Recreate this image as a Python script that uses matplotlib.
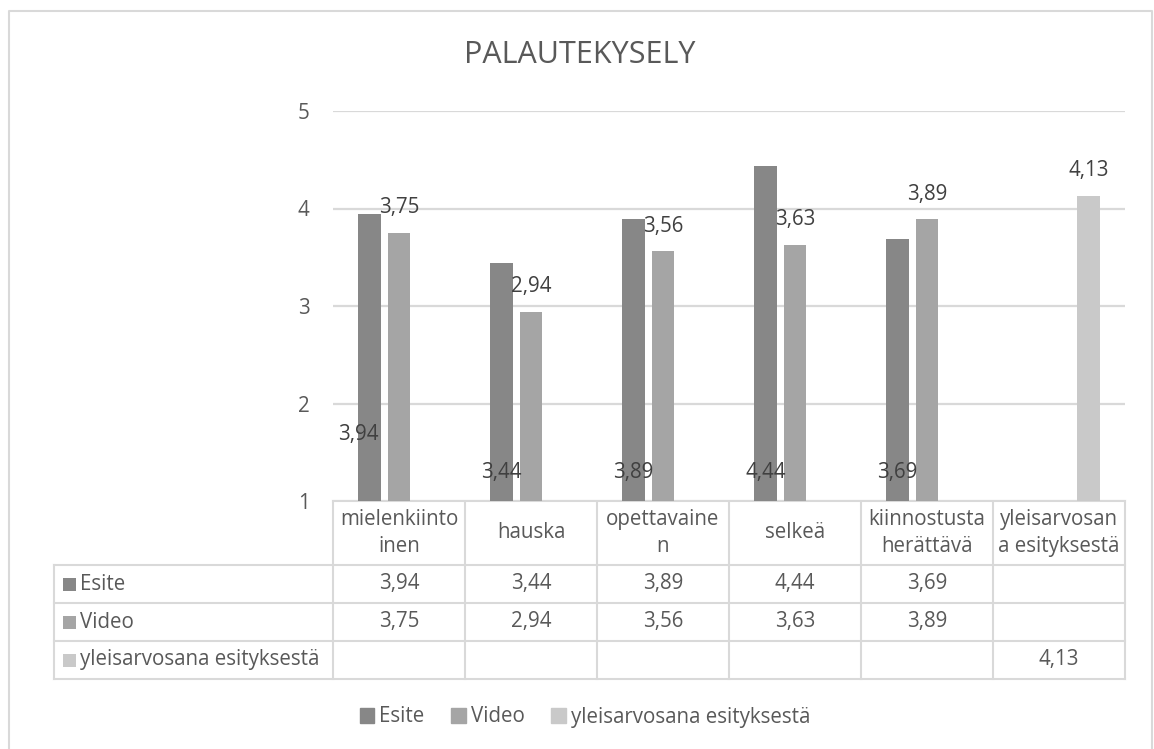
import matplotlib.pyplot as plt
from matplotlib.patches import Patch

plt.rcParams['font.family'] = ['Open Sans', 'DejaVu Sans']

# data
categories = ['mielenkiinto\ninen', 'hauska', 'opettavaine\nn', 'selkeä',
              'kiinnostusta\nherättävä', 'yleisarvosan\na esityksestä']
series_names = ['Esite', 'Video', 'yleisarvosana esityksestä']
esite = [3.94, 3.44, 3.89, 4.44, 3.69, None]
video = [3.75, 2.94, 3.56, 3.63, 3.89, None]
yleis = [None, None, None, None, None, 4.13]
y_ticks = [1, 2, 3, 4, 5]

colors = ['#878787', '#a5a5a5', '#c9c9c9']
grid_col = '#d9d9d9'
text_col = '#595959'
label_col = '#404040'
fs = 14.8

W, H = 1154, 749
fig = plt.figure(figsize=(W / 100, H / 100), dpi=100)

# pixel layout of the plot area
px_left, px_right, px_top, px_bottom = 333, 1125, 111, 501
ax = fig.add_axes([px_left / W, 1 - px_bottom / H,
                   (px_right - px_left) / W, (px_bottom - px_top) / H])

n = len(categories)
bw = 0.174
offsets = [-0.222, 0.0, 0.222]
all_series = [esite, video, yleis]

for vals, off, col in zip(all_series, offsets, colors):
    xs = [i + off for i, v in enumerate(vals) if v is not None]
    hs = [v - 1 for v in vals if v is not None]
    ax.bar(xs, hs, width=bw, bottom=1, color=col, zorder=3)

# data labels (Esite labels were left sitting near the base in the original)
esite_label_y = [1.68, 1.29, 1.29, 1.29, 1.29]
esite_label_dx = [-0.085, 0, 0, 0, 0]
for i, v in enumerate(esite):
    if v is None:
        continue
    ax.text(i + offsets[0] + esite_label_dx[i], esite_label_y[i],
            f'{v:.2f}'.replace('.', ','), ha='center', va='center',
            fontsize=fs, color=label_col, zorder=4)
for vals, off in ((video, offsets[1]), (yleis, offsets[2])):
    for i, v in enumerate(vals):
        if v is None:
            continue
        ax.annotate(f'{v:.2f}'.replace('.', ','), (i + off, v),
                    xytext=(0, 25), textcoords='offset pixels',
                    ha='center', va='center', fontsize=fs, color=label_col,
                    zorder=4)

ax.set_xlim(-0.5, n - 0.5)
ax.set_ylim(1, 5)
ax.set_yticks(y_ticks)
ax.set_yticklabels([str(t) for t in y_ticks])
ax.tick_params(axis='y', length=0, pad=17, labelsize=fs, labelcolor=text_col)
ax.set_xticks([])
for s in ax.spines.values():
    s.set_visible(False)
ax.grid(axis='y', color=grid_col, linewidth=1.6, zorder=0)
ax.set_axisbelow(True)

# overlay in pixel coordinates for the data table, border and title
ov = fig.add_axes([0, 0, 1, 1], zorder=-1)
ov.set_xlim(0, W)
ov.set_ylim(H, 0)
ov.axis('off')

lw = 1.5
# outer chart border
ov.plot([9, 9, 1152, 1152], [H + 5, 11, 11, H + 5], color=grid_col, lw=lw)

ov.text(580, 55, 'PALAUTEKYSELY', ha='center', va='center', fontsize=22,
        color=text_col)

tab_left = 54
row_edges = [501, 565, 603, 641, 679]
cw = (px_right - px_left) / n
col_edges = [px_left + i * cw for i in range(n + 1)]

ov.plot([px_left, px_right], [row_edges[0]] * 2, color=grid_col, lw=lw)
for y in row_edges[1:]:
    ov.plot([tab_left, px_right], [y, y], color=grid_col, lw=lw)
for xe in col_edges:
    ov.plot([xe, xe], [row_edges[0], row_edges[-1]], color=grid_col, lw=lw)
ov.plot([tab_left, tab_left], [row_edges[1], row_edges[-1]], color=grid_col, lw=lw)

# header row with category names
for i, cat in enumerate(categories):
    ov.text((col_edges[i] + col_edges[i + 1]) / 2,
            (row_edges[0] + row_edges[1]) / 2, cat,
            ha='center', va='center', multialignment='center',
            fontsize=fs, color=text_col, linespacing=1.35)

# series rows
for r, (name, vals, col) in enumerate(zip(series_names, all_series, colors)):
    yc = (row_edges[r + 1] + row_edges[r + 2]) / 2
    ov.add_patch(plt.Rectangle((63, yc - 6), 13, 13, color=col, lw=0))
    ov.text(80, yc, name, ha='left', va='center', fontsize=fs, color=text_col)
    for i, v in enumerate(vals):
        if v is None:
            continue
        ov.text((col_edges[i] + col_edges[i + 1]) / 2, yc,
                f'{v:.2f}'.replace('.', ','), ha='center', va='center',
                fontsize=fs, color=text_col)

handles = [Patch(color=c, label=nm) for c, nm in zip(colors, series_names)]
fig.legend(handles=handles, loc='center', bbox_to_anchor=(585 / W, 1 - 717 / H),
           ncol=3, frameon=False, fontsize=fs, labelcolor=text_col,
           handlelength=0.7, handleheight=0.7, handletextpad=0.25,
           columnspacing=1.3)

fig.savefig('out.png', dpi=100, facecolor='white')
